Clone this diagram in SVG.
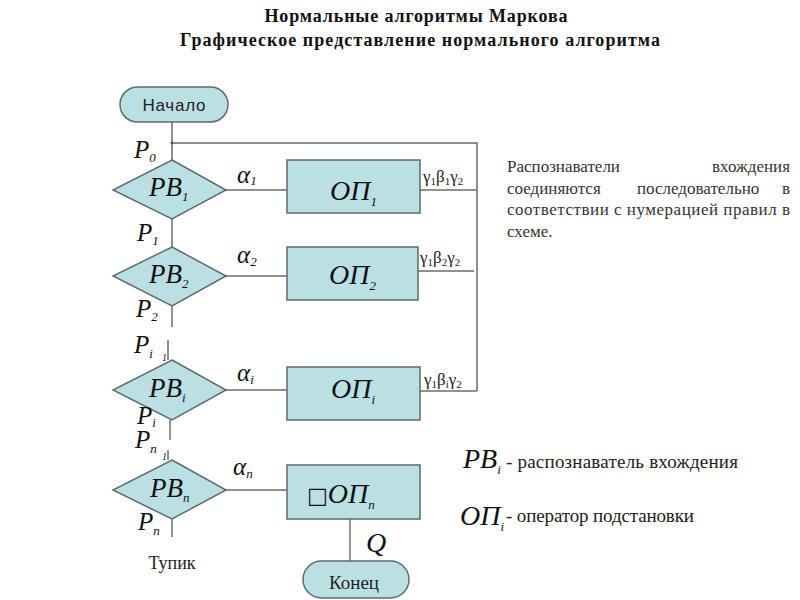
<svg xmlns="http://www.w3.org/2000/svg" width="800" height="600" viewBox="0 0 800 600">
<style>
.sh{fill:#bbe0e3;stroke:#5f6b6c;stroke-width:1.5}
.ln{fill:none;stroke:#6b6b6b;stroke-width:1.5}
.m{font-family:"Liberation Serif","Times New Roman",serif;font-style:italic;fill:#111}
.big{font-size:27px}
.op{font-size:28px}
.p{font-size:25px}
.al{font-size:25px}
.g{font-size:17px}
.sub{font-size:13px}
.t{font-family:"Liberation Serif","Times New Roman",serif;fill:#222}
.s{font-family:"Liberation Sans",Arial,sans-serif;fill:#222}
.title{font-family:"Liberation Serif","Times New Roman",serif;font-weight:bold;font-size:18px;fill:#111}
.par{font-family:"Liberation Serif","Times New Roman",serif;font-size:17px;fill:#333}
</style>
<rect width="800" height="600" fill="#fff"/>
<text class="title" x="416" y="22" text-anchor="middle" textLength="303">Нормальные алгоритмы Маркова</text>
<text class="title" x="420" y="46" text-anchor="middle" textLength="480">Графическое представление нормального алгоритма</text>

<g id="connectors">
<path class="ln" d="M172,122 V160"/>
<path class="ln" d="M172,143 H477 V391"/>
<path class="ln" d="M172,219 V247"/>
<path class="ln" d="M172,306 V327"/>
<path class="ln" d="M168,340 V360"/>
<path class="ln" d="M170,420 V440"/>
<path class="ln" d="M168,450 V460"/>
<path class="ln" d="M172,519 V537"/>
<path class="ln" d="M226,190 H287"/>
<path class="ln" d="M226,276 H287"/>
<path class="ln" d="M226,390 H287"/>
<path class="ln" d="M226,490 H287"/>
<path class="ln" d="M420,190 H477"/>
<path class="ln" d="M418,271 H474"/>
<path class="ln" d="M420,391 H477"/>
<path class="ln" d="M350,519 V561"/>
<circle cx="172" cy="143" r="1.5" fill="#555"/>
</g>

<g id="start">
<rect class="sh" x="120" y="87" width="108" height="35" rx="17.5"/>
<text class="s" x="174" y="111" font-size="17" text-anchor="middle" textLength="63">Начало</text>
</g>

<g id="pb1">
<polygon class="sh" points="172,160 226,190 172,219 113,190"/>
<text class="m big" x="149" y="196">PB<tspan class="sub" font-size="15" dy="5">1</tspan></text>
</g>
<g id="op1">
<rect class="sh" x="287" y="160" width="133" height="53"/>
<text class="m op" x="330" y="200">ОП<tspan class="sub" font-size="15" dy="6">1</tspan></text>
</g>

<g id="pb2">
<polygon class="sh" points="172,247 226,276 172,306 113,276"/>
<text class="m big" x="149" y="283">PB<tspan class="sub" font-size="15" dy="5">2</tspan></text>
</g>
<g id="op2">
<rect class="sh" x="287" y="247" width="131" height="53"/>
<text class="m op" x="329" y="284">ОП<tspan class="sub" font-size="15" dy="6">2</tspan></text>
</g>

<g id="pbi">
<polygon class="sh" points="172,360 226,390 172,420 113,390"/>
<text class="m big" x="149" y="397">PB<tspan class="sub" font-size="15" dy="5">i</tspan></text>
</g>
<g id="opi">
<rect class="sh" x="287" y="367" width="133" height="53"/>
<text class="m op" x="331" y="398">ОП<tspan class="sub" font-size="15" dy="6">i</tspan></text>
</g>

<g id="pbn">
<polygon class="sh" points="172,460 226,490 172,519 113,490"/>
<text class="m big" x="150" y="497">PB<tspan class="sub" font-size="15" dy="5">n</tspan></text>
</g>
<g id="opn">
<rect class="sh" x="287" y="465" width="133" height="54"/>
<text class="m op" x="307" y="503"><tspan font-family="'DejaVu Sans',sans-serif" font-style="normal" font-size="22">□</tspan>ОП<tspan class="sub" font-size="15" dy="6">n</tspan></text>
</g>

<g id="end">
<rect class="sh" x="303" y="561" width="106" height="37" rx="18.5"/>
<text class="t" x="354" y="589" font-size="19" text-anchor="middle">Конец</text>
</g>

<g id="labels">
<text class="m p" x="134" y="158">P<tspan class="sub" dy="4">0</tspan></text>
<text class="m p" x="137" y="241">P<tspan class="sub" dy="4">1</tspan></text>
<text class="m p" x="136" y="317">P<tspan class="sub" dy="4">2</tspan></text>
<text class="m p" x="134" y="353">P<tspan class="sub" dy="5">i</tspan></text>
<text class="m" x="162" y="361" font-size="10">1</text>
<text class="m p" x="137" y="424">P<tspan class="sub" font-size="12" dy="3">i</tspan></text>
<text class="m p" x="135" y="448">P<tspan class="sub" dy="5">n</tspan></text>
<text class="m" x="162" y="460" font-size="10">1</text>
<text class="m p" x="138" y="530">P<tspan class="sub" dy="5">n</tspan></text>

<text class="m al" x="237" y="183">α<tspan class="sub" font-size="15" dy="2">1</tspan></text>
<text class="m al" x="237" y="263">α<tspan class="sub" font-size="15" dy="3">2</tspan></text>
<text class="m al" x="237" y="381">α<tspan class="sub" font-size="15" dy="3">i</tspan></text>
<text class="m al" x="233" y="475">α<tspan class="sub" font-size="15" dy="3">n</tspan></text>

<text class="t g" x="423" y="182">γ<tspan font-size="11" dy="3">1</tspan><tspan dy="-3">β</tspan><tspan font-size="11" dy="3">1</tspan><tspan dy="-3">γ</tspan><tspan font-size="11" dy="3">2</tspan></text>
<text class="t g" x="420" y="263">γ<tspan font-size="11" dy="3">1</tspan><tspan dy="-3">β</tspan><tspan font-size="11" dy="3">2</tspan><tspan dy="-3">γ</tspan><tspan font-size="11" dy="3">2</tspan></text>
<text class="t g" x="424" y="385">γ<tspan font-size="11" dy="3">1</tspan><tspan dy="-3">β</tspan><tspan font-size="11" dy="3">i</tspan><tspan dy="-3">γ</tspan><tspan font-size="11" dy="3">2</tspan></text>

<text class="t" x="172" y="569" font-size="18" text-anchor="middle">Тупик</text>
<text class="m" x="366" y="552" font-size="28">Q</text>
</g>

<g id="note">
<text class="par" x="507" y="172">Распознаватели</text>
<text class="par" x="790" y="172" text-anchor="end">вхождения</text>
<text class="par" x="507" y="194">соединяются</text>
<text class="par" x="637" y="194">последовательно</text>
<text class="par" x="790" y="194" text-anchor="end">в</text>
<text class="par" x="507" y="215" textLength="283" lengthAdjust="spacing">соответствии с нумерацией правил в</text>
<text class="par" x="507" y="237">схеме.</text>
</g>

<g id="legend">
<text class="m" x="463" y="468" font-size="28">PB<tspan class="sub" font-size="14" dy="6">i</tspan></text>
<text class="t" x="506" y="468" font-size="19" textLength="232">- распознаватель вхождения</text>
<text class="m" x="460" y="525" font-size="28">ОП<tspan class="sub" font-size="14" dy="6">i</tspan></text>
<text class="t" x="506" y="522" font-size="19" textLength="188">- оператор подстановки</text>
</g>
</svg>
